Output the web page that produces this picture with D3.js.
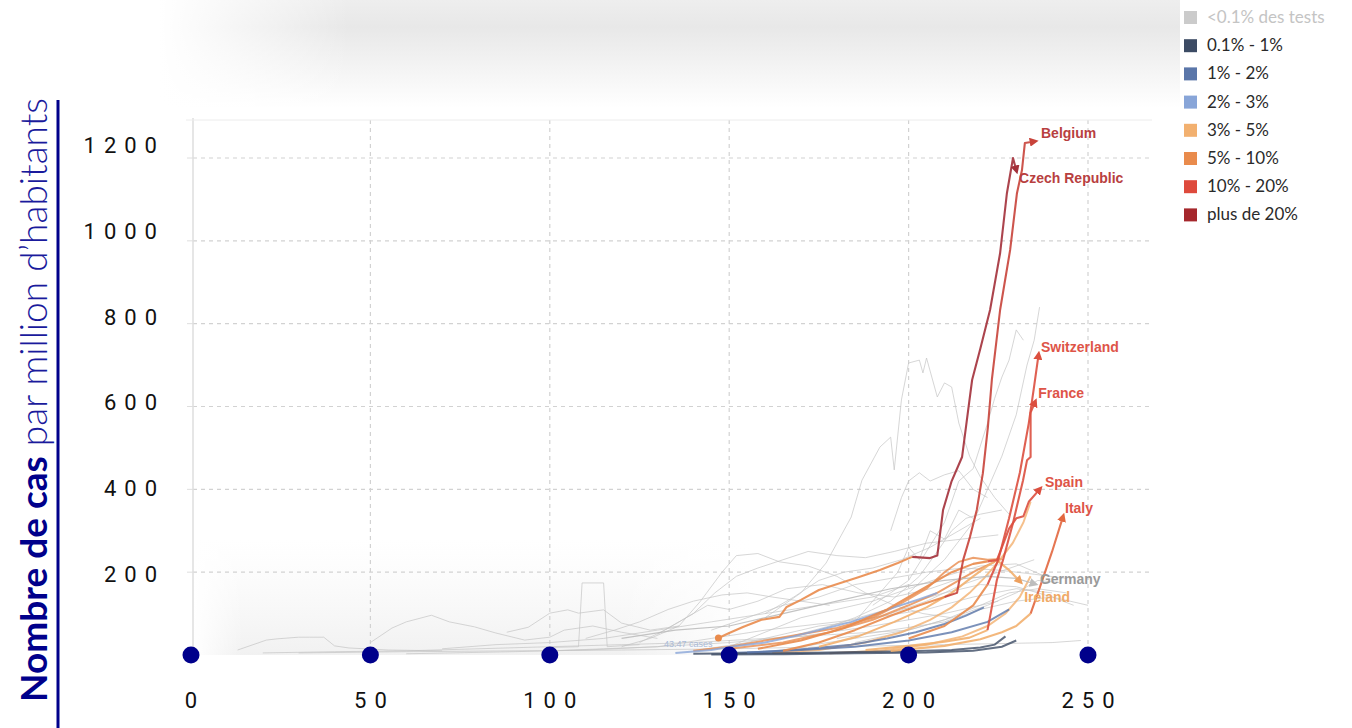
<!DOCTYPE html>
<html>
<head>
<meta charset="utf-8">
<script src="https://cdn.jsdelivr.net/npm/d3@7"></script>
<style>
  body { margin: 0; background: #fff; }
  svg { display: block; }
</style>
</head>
<body>
<script>
// ---- data (days since 1st case, cases per million) ----
const xTicks = [0, 50, 100, 150, 200, 250];
const yTicks = [200, 400, 600, 800, 1000, 1200];

const legendLabels = ["<0.1% des tests", "0.1% - 1%", "1% - 2%", "2% - 3%", "3% - 5%", "5% - 10%", "10% - 20%", "plus de 20%"];
const legendColors = ["#cbcbcb", "#3c4b64", "#5a76a9", "#88a5d8", "#f2b06f", "#e98b4c", "#de4a3c", "#a5272c"];

// grey background countries
const greyLines = [
  [[13,12],[21,36],[24,39],[30,43],[33,43],[37,43],[40,22],[44,17],[55,12],[70,10]],
  [[50,30],[56,65],[60,80],[67,96],[72,80],[79,68],[85,53],[93,36],[100,43],[104,60],[112,70],[120,55],[130,40]],
  [[88,55],[94,67],[100,101],[105,109],[108,101],[115,109],[120,77],[128,60],[136,70]],
  [[100,18],[108,20],[109,174],[115,174],[116,20],[125,25]],
  [[20,5],[40,8],[60,10],[80,15],[100,20],[120,25],[140,30],[160,40],[180,50],[200,60]],
  [[60,3],[90,8],[110,12],[130,20],[150,30],[170,45],[190,70],[210,100],[225,130]],
  [[120,20],[128,40],[136,70],[142,130],[148,200],[152,240],[158,245],[164,225],[172,215],[180,190],[188,150],[196,120],[204,100],[212,90]],
  [[125,30],[132,60],[140,100],[146,150],[152,190],[158,210],[165,230],[172,250],[180,240],[188,235],[196,250],[205,270],[215,280],[225,290]],
  [[130,50],[138,90],[144,120],[150,110],[158,130],[166,160],[176,170],[186,150],[196,140],[206,160],[216,190]],
  [[160,90],[170,150],[177,222],[184,333],[187,422],[192,502],[195,526],[196,447],[198,616],[200,705],[203,712],[204,681],[205,717],[208,623],[210,657],[212,647],[214,560],[217,480],[220,430],[224,380],[228,340]],
  [[190,120],[200,180],[205,250],[210,320],[214,420],[218,450],[222,560],[224,620],[226,671],[228,712],[230,785],[232,760]],
  [[200,150],[210,230],[218,320],[222,400],[226,480],[230,580],[233,700],[235,760],[236.5,840]],
  [[195,300],[198,380],[200,420],[203,440],[206,420],[210,435],[214,445],[218,400],[222,380]],
  [[140,10],[155,30],[165,50],[175,70],[185,80],[195,100],[205,130],[215,170],[225,200],[235,230]],
  [[150,20],[160,55],[170,90],[180,110],[190,130],[200,160],[210,190],[220,215],[230,220],[238,190]],
  [[100,10],[115,15],[130,20],[145,40],[160,60],[175,75],[190,90],[205,110],[218,140],[230,160],[240,150]],
  [[170,20],[185,40],[200,60],[212,90],[222,120],[230,150],[236,180],[242,175]],
  [[180,40],[195,60],[210,80],[220,110],[230,130],[240,140],[246,120]],
  [[160,100],[168,140],[175,180],[182,200],[190,210],[198,230],[206,260],[214,300],[220,330]],
  [[30,5],[60,8],[90,10],[120,12],[150,15],[180,20],[210,25],[240,30],[248,35]],
  [[70,15],[85,25],[100,30],[115,40],[130,60],[145,80],[160,100],[175,120],[190,140],[200,170]],
  [[110,40],[118,60],[125,80],[133,110],[140,130],[148,145],[155,150],[162,140],[170,130],[178,120]],
  [[175,60],[185,90],[195,130],[203,190],[208,250],[212,300],[216,330],[220,340],[226,350]],
  [[185,80],[192,150],[197,200],[200,260],[203,230],[206,300],[210,280],[214,350],[218,330]],
  [[145,60],[155,90],[165,120],[175,140],[185,170],[195,185],[205,200],[215,210],[225,205],[235,195],[244,185]],
  [[165,40],[178,70],[190,100],[200,125],[210,150],[220,170],[230,165],[240,140],[250,120]],
  [[185,30],[198,55],[210,85],[220,120],[228,150],[236,160],[244,150]]
];

// unlabelled coloured countries
const minorColors = ["#e98b4c", "#f2b06f", "#f2b06f", "#e98b4c", "#88a5d8", "#5a76a9", "#3c4b64", "#3c4b64", "#5a76a9"];
const minorValues = [
  [[140,10],[150,20],[160,35],[170,50],[180,65],[190,90],[198,125],[205,160],[210,200],[214,225],[218,235],[222,230],[226,232]],
  [[162,5],[175,12],[188,30],[198,55],[206,85],[212,115],[217,150],[221,185],[225,225],[229,270],[232,320],[234,370]],
  [[178,4],[192,10],[205,25],[215,45],[222,70],[227,100],[231,140],[234,190]],
  [[150,15],[165,30],[178,55],[190,85],[200,120],[208,150],[214,180],[219,205],[224,225]],
  [[135,5],[145,12],[152,22],[160,30],[168,45],[176,62],[184,80],[191,100],[197,118],[203,135],[208,150]],
  [[148,4],[160,8],[172,15],[184,25],[194,40],[202,55],[210,75],[216,95],[221,115]],
  [[140,3],[155,4],[170,5],[185,7],[200,9],[212,12],[220,18],[224,25],[227,45]],
  [[145,1],[165,2],[185,4],[205,6],[218,10],[226,20],[230,35]],
  [[155,6],[170,12],[185,20],[200,35],[212,55],[222,80],[228,110]]
];

// labelled countries: colour before and after the switch day (test positivity)
const countries = ["Germany", "Ireland", "Italy", "Spain", "France", "Switzerland", "Belgium", "Czech Republic"];
const earlyColors = ["#bdbdbd", "#f2b06f", "#f2b06f", "#e98b4c", "#f2b06f", "#e98b4c", "#e98b4c", "#e98b4c"];
const lateColors = ["#bdbdbd", "#eda05e", "#e2673f", "#dc4f3f", "#dc4f3f", "#dc4f3f", "#c8433a", "#a3303a"];
const switchDays = [250, 250, 234, 222, 222, 222, 210, 201];
const labelColors = ["#9a9a9a", "#f0aa66", "#de5448", "#de5448", "#de5448", "#de5448", "#b8403f", "#b8403f"];
const countryValues = [
  [[120,40],[135,60],[150,70],[165,100],[180,130],[195,160],[210,180],[222,190],[230,185],[235,172]],
  [[175,20],[186,45],[196,80],[205,115],[212,150],[218,190],[222,215],[224.6,229],[228,205],[231,178]],
  [[195,10],[210,22],[220,38],[226,55],[230,70],[234,100],[236.6,164],[240,250],[243,333]],
  [[158,15],[170,35],[182,65],[194,110],[204,160],[212,200],[218,220],[222,226],[224.6,229],[226,260],[228,305],[230,330],[232,335],[233.5,370],[236.5,400]],
  [[188,12],[200,22],[210,32],[217,42],[222,60],[224.6,181],[226.3,229],[229.1,319],[231.9,422],[233,470],[234,478],[234,585],[235.2,610]],
  [[200,40],[210,70],[218,120],[222,170],[225,230],[228,330],[231,440],[233.5,560],[235,650],[236.2,724]],
  [[165,10],[175,30],[185,60],[195,95],[203,120],[210,140],[213.5,150],[215.2,229],[217.1,285],[219,350],[220.7,439],[222.1,550],[223.2,664],[225.5,833],[228.3,978],[230.2,1115],[231.6,1171],[232.4,1236],[235,1240]],
  [[147,41],[150,53],[154,68],[159,85],[164,92],[166,116],[170,133],[175,157],[181,174],[186,188],[192,205],[197,222],[201,237],[206,234],[208,240],[209.6,350],[212,420],[214.9,478],[216.6,591],[217.7,664],[220,740],[222.7,833],[225.5,970],[227.4,1115],[229.1,1200],[230,1171]]
];
const labelDays = [236.6, 232.2, 243.6, 238, 236.1, 236.9, 236.9, 230.8];
const labelValues = [171, 128, 343, 406, 620, 731, 1248, 1139];

const startNote = "43.47 cases";

// ---- layout ----
const W = 1352, H = 728;
const x = d3.scaleLinear().domain([0, 250]).range([191, 1088]);
const y = d3.scaleLinear().domain([0, 1200]).range([655, 158]);
const yLabel = d3.scaleLinear().domain([200, 1200]).range([574, 145]);
const plotRight = 1152, plotTop = 120;

const svg = d3.select("body").append("svg").attr("width", W).attr("height", H);
const defs = svg.append("defs");

// soft grey bands of the pasted screenshot
const gTop = defs.append("linearGradient").attr("id", "gTop").attr("x1", 0).attr("x2", 0).attr("y1", 0).attr("y2", 1);
gTop.append("stop").attr("offset", "0%").attr("stop-color", "#eeeeee");
gTop.append("stop").attr("offset", "25%").attr("stop-color", "#e8e8e8");
gTop.append("stop").attr("offset", "100%").attr("stop-color", "#ffffff");
const gLeft = defs.append("linearGradient").attr("id", "gLeft");
gLeft.append("stop").attr("offset", "0%").attr("stop-color", "#fff").attr("stop-opacity", 1);
gLeft.append("stop").attr("offset", "100%").attr("stop-color", "#fff").attr("stop-opacity", 0);
const gBot = defs.append("linearGradient").attr("id", "gBot").attr("x1", 0).attr("x2", 0).attr("y1", 0).attr("y2", 1);
gBot.append("stop").attr("offset", "0%").attr("stop-color", "#f0f0f0").attr("stop-opacity", 0);
gBot.append("stop").attr("offset", "100%").attr("stop-color", "#e8e8e8").attr("stop-opacity", 0.6);
const gRight = defs.append("linearGradient").attr("id", "gRight");
gRight.append("stop").attr("offset", "0%").attr("stop-color", "#fff").attr("stop-opacity", 0);
gRight.append("stop").attr("offset", "100%").attr("stop-color", "#fff").attr("stop-opacity", 1);

svg.append("rect").attr("x", 160).attr("y", 0).attr("width", 1020).attr("height", 108).attr("fill", "url(#gTop)");
svg.append("rect").attr("x", 160).attr("y", 0).attr("width", 190).attr("height", 108).attr("fill", "url(#gLeft)");

svg.append("rect").attr("x", 193).attr("y", 540).attr("width", 560).attr("height", 115).attr("fill", "url(#gBot)");
svg.append("rect").attr("x", 193).attr("y", 540).attr("width", 50).attr("height", 115).attr("fill", "url(#gLeft)");
svg.append("rect").attr("x", 620).attr("y", 540).attr("width", 135).attr("height", 115).attr("fill", "url(#gRight)");

// frame and dashed grid of the original chart
const grid = svg.append("g").attr("stroke", "#d2d2d2").attr("stroke-width", 1.2).attr("fill", "none");
grid.selectAll(".hg").data(yTicks).join("line")
  .attr("x1", 193).attr("x2", plotRight).attr("y1", d => y(d)).attr("y2", d => y(d))
  .attr("stroke-dasharray", "4,4");
grid.selectAll(".vg").data(xTicks.slice(1)).join("line")
  .attr("x1", d => x(d)).attr("x2", d => x(d)).attr("y1", plotTop).attr("y2", y(0))
  .attr("stroke-dasharray", "4,4");
svg.append("line").attr("x1", 193).attr("x2", 193).attr("y1", plotTop - 2).attr("y2", y(0))
  .attr("stroke", "#dedede").attr("stroke-width", 1.5);
svg.append("line").attr("x1", 186).attr("x2", plotRight).attr("y1", plotTop).attr("y2", plotTop)
  .attr("stroke", "#ececec").attr("stroke-width", 1);
svg.selectAll(".yt").data(yTicks).join("line")
  .attr("x1", 187).attr("x2", 193).attr("y1", d => y(d)).attr("y2", d => y(d))
  .attr("stroke", "#dedede");

const line = d3.line().x(d => x(d[0])).y(d => y(d[1]));

// grey lines
svg.append("g").selectAll("path").data(greyLines).join("path")
  .attr("d", line).attr("fill", "none").attr("stroke", "#c4c4c4")
  .attr("stroke-width", 1).attr("stroke-opacity", 0.7);

// minor coloured lines
svg.append("g").selectAll("path").data(minorValues).join("path")
  .attr("d", line).attr("fill", "none")
  .attr("stroke", (d, i) => minorColors[i])
  .attr("stroke-width", 2).attr("stroke-opacity", 0.8);

// arrow markers
countries.forEach((c, i) => {
  defs.append("marker").attr("id", "arr" + i)
    .attr("viewBox", "0 0 10 10").attr("refX", 5).attr("refY", 5)
    .attr("markerWidth", 9).attr("markerHeight", 9)
    .attr("markerUnits", "userSpaceOnUse").attr("orient", "auto")
    .append("path").attr("d", "M0,0L10,5L0,10Z").attr("fill", lateColors[i]);
});

const cg = svg.append("g").attr("fill", "none").attr("stroke-linejoin", "round");
countryValues.forEach((vals, i) => {
  const sw = i === 0 ? 1.2 : 2.1;
  const early = vals.filter(d => d[0] <= switchDays[i]);
  const late = vals.filter(d => d[0] >= switchDays[i]);
  if (late.length && early.length && late[0][0] !== early[early.length - 1][0]) late.unshift(early[early.length - 1]);
  if (early.length > 1) {
    cg.append("path").attr("d", line(early)).attr("stroke", earlyColors[i])
      .attr("stroke-width", sw).attr("stroke-opacity", 0.9)
      .attr("marker-end", late.length > 1 ? null : `url(#arr${i})`);
  }
  if (late.length > 1) {
    cg.append("path").attr("d", line(late)).attr("stroke", lateColors[i])
      .attr("stroke-width", sw).attr("stroke-opacity", 0.9)
      .attr("marker-end", `url(#arr${i})`);
  }
});

// start dot + note
const czech = countryValues[countries.indexOf("Czech Republic")];
svg.append("circle").attr("cx", x(czech[0][0])).attr("cy", y(czech[0][1])).attr("r", 3.5)
  .attr("fill", "#e98b4c");
svg.append("text").attr("x", x(czech[0][0]) - 6).attr("y", y(czech[0][1]) + 9)
  .attr("text-anchor", "end").attr("font-family", "Liberation Sans, Arial, sans-serif")
  .attr("font-size", 9).attr("fill", "#a9bad8").text(startNote);

// country labels
svg.append("g").selectAll("text").data(countries).join("text")
  .attr("x", (d, i) => x(labelDays[i])).attr("y", (d, i) => y(labelValues[i]))
  .attr("font-family", "Liberation Sans, Arial, sans-serif").attr("font-weight", "bold")
  .attr("font-size", 14).attr("fill", (d, i) => labelColors[i]).text(d => d);

// overlaid axis: dots and spaced numbers
svg.append("g").selectAll("circle").data(xTicks).join("circle")
  .attr("cx", d => x(d)).attr("cy", 655).attr("r", 8.5).attr("fill", "#00008b");

const tickFont = "Roboto, 'DejaVu Sans', sans-serif";
svg.append("g").selectAll("text").data(xTicks).join("text")
  .attr("x", d => x(d) + 4).attr("y", 708).attr("text-anchor", "middle")
  .attr("font-family", tickFont).attr("font-size", 22).attr("letter-spacing", 8)
  .attr("fill", "#111").text(d => d);

svg.append("g").selectAll("text").data(yTicks).join("text")
  .attr("x", 165).attr("y", d => yLabel(d) + 8).attr("text-anchor", "end")
  .attr("font-family", tickFont).attr("font-size", 22).attr("letter-spacing", 8)
  .attr("fill", "#111").text(d => d);

// y title and its rule
svg.append("line").attr("x1", 58).attr("x2", 58).attr("y1", 100).attr("y2", H)
  .attr("stroke", "#00008b").attr("stroke-width", 3);
const title = svg.append("text").attr("transform", "translate(47,702) rotate(-90)")
  .attr("font-family", "Lato, 'Open Sans', sans-serif").attr("font-size", 37).attr("fill", "#00008b");
title.append("tspan").attr("font-weight", "bold").text("Nombre de cas");
title.append("tspan").attr("font-weight", 300).attr("fill", "#1a1a9c").text(" par million d\u2019habitants");

// legend
const leg = svg.append("g").selectAll("g").data(legendLabels).join("g")
  .attr("transform", (d, i) => `translate(1184,${17 + i * 28.2})`);
leg.append("rect").attr("x", 0).attr("y", -6).attr("width", 13).attr("height", 13)
  .attr("fill", (d, i) => legendColors[i]);
leg.append("text").attr("x", 23).attr("y", 6)
  .attr("font-family", "Lato, sans-serif").attr("font-size", 17)
  .attr("fill", (d, i) => i === 0 ? "#c4c4c4" : "#2a2a2a").text(d => d);
</script>
</body>
</html>
